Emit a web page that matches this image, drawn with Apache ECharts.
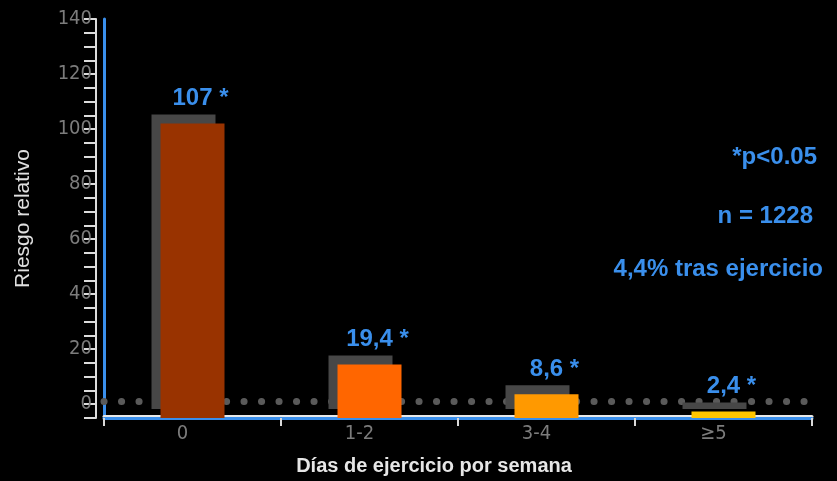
<!DOCTYPE html>
<html>
<head>
<meta charset="utf-8">
<script src="https://cdn.jsdelivr.net/npm/echarts@6/dist/echarts.min.js"></script>
<style>
html,body{margin:0;padding:0;background:#000;}
#chart{width:837px;height:481px;}
</style>
</head>
<body>
<div id="chart"></div>
<script>
// ---- data ----
var categories = ['0', '1-2', '3-4', '\u22655'];
var riskValues = [107, 19.4, 8.6, 2.4];
var barColors = ['#993300', '#ff6600', '#ff9900', '#ffc600'];
var referenceLevel = [1];
var yTickLabels = [0, 20, 40, 60, 80, 100, 120, 140];
var notes = ['*p<0.05', 'n = 1228', '4,4% tras ejercicio'];

var BLUE = '#3a8fec';
var NARROW = "'Liberation Sans Narrow', 'Arial Narrow', 'DejaVu Sans Condensed', sans-serif";

var chart = echarts.init(document.getElementById('chart'), null, {renderer: 'canvas'});

var option = {
  backgroundColor: '#000000',
  animation: false,
  grid: {left: 104, right: 25, top: 19, bottom: 63},
  xAxis: {
    type: 'category',
    data: categories,
    boundaryGap: true,
    name: 'Días de ejercicio por semana',
    nameLocation: 'middle',
    nameGap: 38,
    nameTextStyle: {color: '#e6e6e6', fontSize: 20, fontWeight: 'bold', fontFamily: 'Liberation Sans, Arial, sans-serif', padding: [0, 48, 0, 0]},
    axisLine: {show: true, onZero: false, lineStyle: {color: BLUE, width: 3, shadowColor: '#e8e8e8', shadowOffsetY: -2, shadowBlur: 0}},
    axisTick: {show: true, length: 8, lineStyle: {color: '#d8d8d8', width: 2}},
    axisLabel: {color: '#7c7c7c', fontSize: 20, fontFamily: NARROW, margin: 6, padding: [0, 20, 0, 0]},
    splitLine: {show: false}
  },
  yAxis: [
    {
      type: 'value',
      min: -5,
      max: 140,
      interval: 5,
      position: 'left',
      offset: 8,
      name: 'Riesgo relativo',
      nameLocation: 'middle',
      nameGap: 62,
      nameRotate: 90,
      nameTextStyle: {color: '#e0e0e0', fontSize: 21, fontFamily: 'Liberation Sans, Arial, sans-serif'},
      axisLine: {show: true, onZero: false, lineStyle: {color: '#dcdcdc', width: 2}},
      axisTick: {show: true, length: 12, lineStyle: {color: '#dcdcdc', width: 2}},
      axisLabel: {
        color: '#7c7c7c', fontSize: 20, fontFamily: NARROW, margin: 4,
        formatter: function (v) { return yTickLabels.indexOf(v) >= 0 ? String(v) : ''; }
      },
      splitLine: {show: false}
    },
    {
      type: 'value',
      min: 0,
      max: 145,
      position: 'left',
      offset: 0,
      axisLine: {show: true, onZero: false, lineStyle: {color: BLUE, width: 3}},
      axisTick: {show: false},
      axisLabel: {show: false},
      splitLine: {show: false}
    }
  ],
  series: [
    {
      type: 'line',
      yAxisIndex: 0,
      data: [],
      z: 1,
      markLine: {
        silent: true,
        symbol: ['none', 'none'],
        label: {show: false},
        lineStyle: {color: '#5a5a5a', width: 7, type: [0.1, 17.4], cap: 'round'},
        data: referenceLevel.map(function (v) { return {yAxis: v}; })
      }
    },
    {
      type: 'bar',
      yAxisIndex: 1,
      zlevel: 1,
      z: 3,
      barWidth: 64,
      data: riskValues.map(function (v, i) {
        return {value: v, itemStyle: {color: barColors[i]}};
      }),
      itemStyle: {shadowColor: '#474747', shadowOffsetX: -9, shadowOffsetY: -9, shadowBlur: 0},
      label: {
        show: true,
        position: 'top',
        distance: 13,
        offset: [8, 0],
        color: BLUE,
        fontSize: 24,
        fontWeight: 'bold',
        fontFamily: 'Liberation Sans, Arial, sans-serif',
        formatter: function (p) { return String(p.value).replace('.', ',') + ' *'; }
      }
    }
  ],
  graphic: [
    {type: 'text', right: 20, top: 145, style: {text: notes[0], fill: BLUE, font: 'bold 24px "Liberation Sans", Arial, sans-serif'}},
    {type: 'text', right: 24, top: 204, style: {text: notes[1], fill: BLUE, font: 'bold 24px "Liberation Sans", Arial, sans-serif'}},
    {type: 'text', right: 14, top: 257, style: {text: notes[2], fill: BLUE, font: 'bold 24px "Liberation Sans", Arial, sans-serif'}}
  ]
};
chart.setOption(option);
</script>
</body>
</html>
